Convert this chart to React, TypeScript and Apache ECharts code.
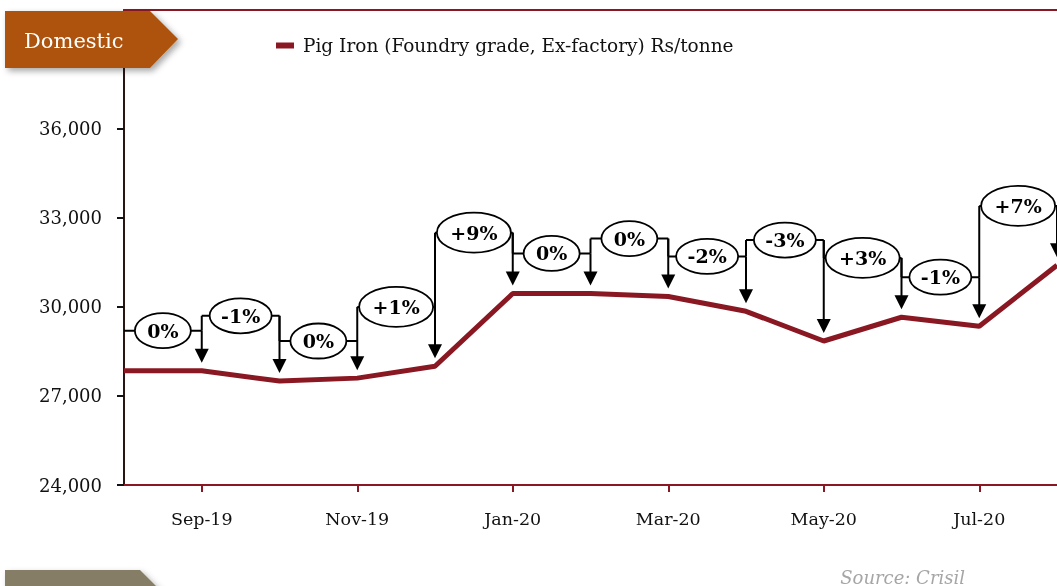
import React, { useEffect, useRef } from "react";
import * as echarts from "echarts";

const months = ["Aug-19", "Sep-19", "Oct-19", "Nov-19", "Dec-19", "Jan-20", "Feb-20", "Mar-20", "Apr-20", "May-20", "Jun-20", "Jul-20", "Aug-20"];
const prices = [27850, 27850, 27500, 27600, 28000, 30450, 30450, 30350, 29850, 28850, 29650, 29350, 31400];
const changeLabels = ["0%", "-1%", "0%", "+1%", "+9%", "0%", "0%", "-2%", "-3%", "+3%", "-1%", "+7%"];
const bracketLevels = [29200, 29700, 28850, 30000, 32500, 31800, 32300, 31700, 32250, 31650, 31000, 33400];
const yTicks = [24000, 27000, 30000, 33000, 36000];
const seriesName = "Pig Iron (Foundry grade, Ex-factory) Rs/tonne";

const FONT = "'DejaVu Serif', Georgia, serif";
const RED = "#8A1822";

export default function App() {
  const ref = useRef<HTMLDivElement>(null);
  useEffect(() => {
    if (!ref.current) return;
    const chart = echarts.init(ref.current, undefined, { renderer: "svg" });
    const annData = changeLabels.map((_, k) => {
      const i = k + 1;
      return [i, bracketLevels[k], prices[i], k > 0 ? bracketLevels[k - 1] : bracketLevels[k]];
    });
    chart.setOption({
      animation: false,
      grid: { left: 124, top: 10, width: 934, height: 475, containLabel: false },
      legend: {
        data: [{ name: seriesName, icon: "rect" }],
        left: 271,
        top: 31,
        itemWidth: 18,
        itemHeight: 6,
        itemGap: 12,
        textStyle: { fontFamily: FONT, fontSize: 18.5, color: "#111", padding: [0, 0, 0, 4] },
      },
      xAxis: [
        {
          type: "category",
          data: months,
          boundaryGap: false,
          axisLine: { lineStyle: { color: RED, width: 2 } },
          axisTick: { interval: (idx: number) => idx % 2 === 1, length: 7, lineStyle: { color: RED, width: 2 } },
          axisLabel: {
            interval: (idx: number) => idx % 2 === 1,
            margin: 25,
            fontFamily: FONT,
            fontSize: 17.5,
            color: "#111",
          },
          splitLine: { show: false },
        },
        {
          type: "category",
          data: months,
          position: "top",
          boundaryGap: false,
          axisLine: { lineStyle: { color: RED, width: 2 } },
          axisTick: { show: false },
          axisLabel: { show: false },
        },
      ],
      yAxis: {
        type: "value",
        min: 24000,
        max: 40000,
        interval: 1000,
        axisLine: { show: true, lineStyle: { color: "#2a1515", width: 2 } },
        axisTick: { show: true, length: 7, customValues: yTicks, lineStyle: { color: "#111", width: 2 } },
        axisLabel: {
          customValues: yTicks,
          margin: 22,
          fontFamily: FONT,
          fontSize: 18,
          color: "#111",
          formatter: (v: number) => v.toLocaleString("en-US"),
        },
        splitLine: { show: false },
      },
      series: [
        {
          name: seriesName,
          type: "line",
          data: prices,
          showSymbol: false,
          symbol: "none",
          lineStyle: { color: RED, width: 5 },
          itemStyle: { color: RED },
          z: 2,
        },
        {
          type: "custom",
          clip: false,
          z: 5,
          data: annData,
          renderItem: (params: any, api: any) => {
            const i = api.value(0);
            const b = api.value(1);
            const v = api.value(2);
            const pb = api.value(3);
            const label = changeLabels[params.dataIndex];
            const p0 = api.coord([i - 1, b]);
            const p1 = api.coord([i, b]);
            const pp = api.coord([i - 1, pb]);
            const tip = api.coord([i, v]);
            const tipY = tip[1] - 8;
            const head = 14;
            const lineStyle = { stroke: "#000", lineWidth: 2, fill: null };
            const children: any[] = [];
            children.push({ type: "line", shape: { x1: p0[0], y1: p0[1], x2: p1[0], y2: p1[1] }, style: lineStyle });
            if (i > 1) {
              children.push({ type: "line", shape: { x1: p0[0], y1: p0[1], x2: pp[0], y2: pp[1] }, style: lineStyle });
            }
            children.push({ type: "line", shape: { x1: p1[0], y1: p1[1], x2: p1[0], y2: tipY - head + 1 }, style: lineStyle });
            children.push({
              type: "polygon",
              shape: { points: [[p1[0] - 7, tipY - head], [p1[0] + 7, tipY - head], [p1[0], tipY]] },
              style: { fill: "#000" },
            });
            const plus = label.startsWith("+");
            const minus = label.startsWith("-");
            const rx = plus ? 37 : minus ? 31 : 28;
            const ry = plus ? 20 : 17.5;
            const cx = (p0[0] + p1[0]) / 2;
            const cy = p1[1];
            children.push({
              type: "ellipse",
              shape: { cx, cy, rx, ry },
              style: { fill: "#fff", stroke: "#000", lineWidth: 1.8 },
            });
            children.push({
              type: "text",
              x: cx,
              y: cy,
              style: {
                text: label,
                fontFamily: FONT,
                fontWeight: "bold",
                fontSize: 19,
                fill: "#000",
                align: "center",
                verticalAlign: "middle",
              },
            });
            return { type: "group", children };
          },
        },
      ],
      graphic: [
        {
          type: "polygon",
          shape: { points: [[5, 11], [150, 11], [178, 39], [150, 68], [5, 68]] },
          style: { fill: "#AD5208", shadowBlur: 6, shadowColor: "rgba(0,0,0,0.35)", shadowOffsetX: 3, shadowOffsetY: 3 },
          z: 10,
        },
        {
          type: "text",
          x: 24,
          y: 41,
          style: { text: "Domestic", fontFamily: FONT, fontSize: 21, fill: "#fff", verticalAlign: "middle" },
          z: 11,
        },
        {
          type: "polygon",
          shape: { points: [[5, 570], [140, 570], [170, 600], [5, 600]] },
          style: { fill: "#857D66", shadowBlur: 6, shadowColor: "rgba(0,0,0,0.3)", shadowOffsetX: 3, shadowOffsetY: 3 },
          z: 10,
        },
        {
          type: "text",
          x: 965,
          y: 577,
          style: {
            text: "Source: Crisil",
            fontFamily: FONT,
            fontStyle: "italic",
            fontSize: 18,
            fill: "#A6A6A6",
            align: "right",
            verticalAlign: "middle",
          },
          z: 11,
        },
      ],
    });
    return () => chart.dispose();
  }, []);
  return <div ref={ref} style={{ position: "fixed", left: 0, top: 0, width: 1057, height: 586 }} />;
}
